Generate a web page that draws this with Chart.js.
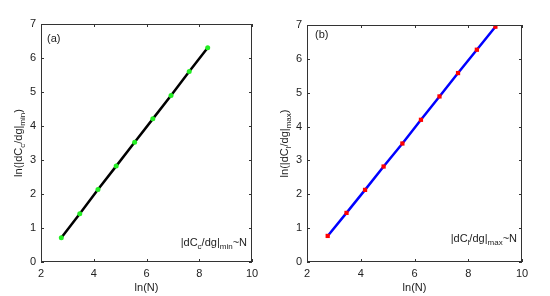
<!DOCTYPE html>
<html>
<head>
<meta charset="utf-8">
<script src="https://cdn.jsdelivr.net/npm/chart.js@4.4.1/dist/chart.umd.min.js"></script>
<style>
  body { margin: 0; background: #fff; }
  .Panel { position: absolute; top: 0; width: 275px; height: 296px; }
</style>
</head>
<body>
<div class="Panel" style="left:0"><canvas id="GraficoA" width="275" height="296"></canvas></div>
<div class="Panel" style="left:275px"><canvas id="GraficoB" width="275" height="296"></canvas></div>
<script>
// Datos
const LnNA     = [2.77, 3.47, 4.16, 4.85, 5.55, 6.24, 6.93, 7.62, 8.32];
const LnDcMin  = [0.71, 1.42, 2.13, 2.82, 3.52, 4.21, 4.90, 5.60, 6.30];
const LnNB     = [2.77, 3.47, 4.16, 4.85, 5.55, 6.24, 6.93, 7.62, 8.32, 9.01];
const LnDlMax  = [0.77, 1.45, 2.13, 2.82, 3.50, 4.20, 4.89, 5.58, 6.27, 6.95];
const TicksX   = [2, 4, 6, 8, 10];
const TicksY   = [0, 1, 2, 3, 4, 5, 6, 7];

const Fuente   = 'Liberation Sans, Arial, sans-serif';
const ColorEje = '#333';

// Dibuja texto con subindices: Partes = [[texto, esSub], ...]
function TextoSub(Ctx, Partes, X, Y, Alinear) {
  const Tam = 11, TamSub = 8;
  let Ancho = 0;
  Partes.forEach(([T, Sub]) => {
    Ctx.font = `${Sub ? TamSub : Tam}px ${Fuente}`;
    Ancho += Ctx.measureText(T).width;
  });
  let Cx = Alinear === 'right' ? X - Ancho : Alinear === 'center' ? X - Ancho / 2 : X;
  Ctx.textAlign = 'left';
  Ctx.textBaseline = 'alphabetic';
  Partes.forEach(([T, Sub]) => {
    Ctx.font = `${Sub ? TamSub : Tam}px ${Fuente}`;
    Ctx.fillText(T, Cx, Sub ? Y + 3 : Y);
    Cx += Ctx.measureText(T).width;
  });
}

function CrearGrafico(Id, Cfg) {
  const PluginEjes = {
    id: 'EjesMatlab',
    afterDraw(Chart) {
      const Ctx = Chart.ctx;
      const A = Chart.chartArea;
      const Sx = Chart.scales.x, Sy = Chart.scales.y;
      Ctx.save();
      Ctx.strokeStyle = ColorEje;
      Ctx.lineWidth = 1;
      Ctx.strokeRect(A.left + 0.5, A.top + 0.5, A.right - A.left - 1, A.bottom - A.top - 1);
      Ctx.beginPath();
      TicksX.forEach(V => {
        const Px = Math.round(Sx.getPixelForValue(V)) + 0.5;
        Ctx.moveTo(Px, A.bottom); Ctx.lineTo(Px, A.bottom - 3);
        Ctx.moveTo(Px, A.top);    Ctx.lineTo(Px, A.top + 3);
      });
      TicksY.forEach(V => {
        const Py = Math.round(Sy.getPixelForValue(V)) + 0.5;
        Ctx.moveTo(A.left, Py);  Ctx.lineTo(A.left + 3, Py);
        Ctx.moveTo(A.right, Py); Ctx.lineTo(A.right - 3, Py);
      });
      Ctx.stroke();

      Ctx.fillStyle = '#222';
      // titulo eje Y
      Ctx.save();
      Ctx.translate(Cfg.TituloYX, (A.top + A.bottom) / 2);
      Ctx.rotate(-Math.PI / 2);
      TextoSub(Ctx, Cfg.TituloY, 0, 4, 'center');
      Ctx.restore();

      // etiqueta del panel
      Ctx.font = `11px ${Fuente}`;
      Ctx.textAlign = 'left';
      Ctx.textBaseline = 'middle';
      Ctx.fillText(Cfg.Etiqueta, A.left + Cfg.EtiquetaDx, A.top + Cfg.EtiquetaDy);

      // anotacion
      TextoSub(Ctx, Cfg.Nota, A.right - 5, A.bottom - Cfg.NotaDy, 'right');
      Ctx.restore();
    }
  };

  return new Chart(document.getElementById(Id).getContext('2d'), {
    type: 'line',
    data: {
      datasets: [{
        data: Cfg.X.map((V, I) => ({ x: V, y: Cfg.Y[I] })),
        borderColor: Cfg.ColorLinea,
        borderWidth: 2.5,
        pointStyle: Cfg.Marcador,
        pointRadius: Cfg.RadioMarcador,
        pointBackgroundColor: Cfg.ColorMarcador,
        pointBorderWidth: 0,
        tension: 0
      }]
    },
    options: {
      responsive: false,
      animation: false,
      layout: { padding: { top: Cfg.Arriba, right: Cfg.Derecha, left: 0, bottom: 0 } },
      plugins: { legend: { display: false }, tooltip: { enabled: false } },
      scales: {
        x: {
          type: 'linear', min: 2, max: 10,
          afterBuildTicks: S => { S.ticks = TicksX.map(V => ({ value: V })); },
          afterFit: S => { S.height = 34; },
          ticks: { padding: 5, color: '#222', font: { family: Fuente, size: 11 } },
          grid: { drawOnChartArea: false, drawTicks: false },
          border: { display: false },
          title: { display: true, text: 'ln(N)', color: '#222', font: { family: Fuente, size: 11 }, padding: { top: 0, bottom: 1 } }
        },
        y: {
          type: 'linear', min: 0, max: 7,
          afterBuildTicks: S => { S.ticks = TicksY.map(V => ({ value: V })); },
          afterFit: S => { S.width = Cfg.Izquierda; },
          ticks: { padding: 5, color: '#222', font: { family: Fuente, size: 11 } },
          grid: { drawOnChartArea: false, drawTicks: false },
          border: { display: false }
        }
      }
    },
    plugins: [PluginEjes]
  });
}

CrearGrafico('GraficoA', {
  X: LnNA, Y: LnDcMin,
  ColorLinea: '#000000', Marcador: 'circle', RadioMarcador: 2.5, ColorMarcador: '#22ee22',
  Izquierda: 41, Derecha: 23, Arriba: 24,
  TituloYX: 18,
  TituloY: [['ln(|dC', false], ['c', true], ['/dg|', false], ['min', true], [')', false]],
  Etiqueta: '(a)', EtiquetaDx: 6, EtiquetaDy: 15,
  Nota: [['|dC', false], ['c', true], ['/dg|', false], ['min', true], ['~N', false]], NotaDy: 16
});

CrearGrafico('GraficoB', {
  X: LnNB, Y: LnDlMax,
  ColorLinea: '#0000ff', Marcador: 'rect', RadioMarcador: 3, ColorMarcador: '#ff0000',
  Izquierda: 32, Derecha: 28, Arriba: 25,
  TituloYX: 9,
  TituloY: [['ln(|dC', false], ['l', true], ['/dg|', false], ['max', true], [')', false]],
  Etiqueta: '(b)', EtiquetaDx: 8, EtiquetaDy: 10,
  Nota: [['|dC', false], ['l', true], ['/dg|', false], ['max', true], ['~N', false]], NotaDy: 20
});
</script>
</body>
</html>
